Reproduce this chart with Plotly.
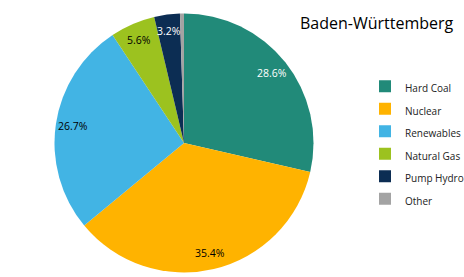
import math
import plotly.graph_objects as go

labels = ["Hard Coal", "Nuclear", "Renewables", "Natural Gas", "Pump Hydro", "Other"]
values = [28.6, 35.4, 26.7, 5.6, 3.2, 0.5]
colors = ["#218A79", "#FFB300", "#42B4E4", "#9CC21F", "#0C2D53", "#A3A3A3"]
text_colors = ["white", "black", "black", "black", "white", "black"]
shown = ["28.6%", "35.4%", "26.7%", "5.6%", "3.2%", ""]

W, H = 464, 277
cx, cy, r = 184, 143, 129.5
label_r = 0.87

legend_labels = [f"<span style='font-size:10px'>{l}</span>" for l in labels]

fig = go.Figure(go.Pie(
    labels=legend_labels, values=values, sort=False, direction="clockwise", rotation=0,
    marker=dict(colors=colors, line=dict(width=0)),
    textinfo="none", hoverinfo="label+percent",
    domain=dict(x=[(cx - r) / W, (cx + r) / W], y=[(H - cy - r) / H, (H - cy + r) / H]),
))

# slice labels placed at the angular middle of each slice
annotations = []
total = sum(values)
cum = 0.0
for v, t, c in zip(values, shown, text_colors):
    mid = (cum + v / 2) / total * 2 * math.pi
    cum += v
    if not t:
        continue
    x = cx + label_r * r * math.sin(mid)
    y = cy - label_r * r * math.cos(mid)
    annotations.append(dict(text=t, x=x / W, y=1 - y / H, xref="paper", yref="paper",
                            xanchor="center", yanchor="middle", showarrow=False,
                            font=dict(family="Open Sans", size=10.5, color=c)))

annotations.append(dict(text="Baden-Württemberg", x=456 / W, y=1 - 10 / H, xref="paper", yref="paper",
                        xanchor="right", yanchor="top", showarrow=False,
                        font=dict(family="Open Sans", size=16, color="black")))

fig.update_layout(
    width=W, height=H, margin=dict(l=0, r=0, t=0, b=0, autoexpand=False),
    paper_bgcolor="white", plot_bgcolor="white",
    font=dict(family="Open Sans", color="#222"),
    legend=dict(x=365 / W, y=1 - 142.5 / H, xanchor="left", yanchor="middle",
                font=dict(family="Open Sans", size=15, color="#222"),
                itemwidth=30, tracegroupgap=0),
    annotations=annotations,
)
fig.write_html("out.html")
